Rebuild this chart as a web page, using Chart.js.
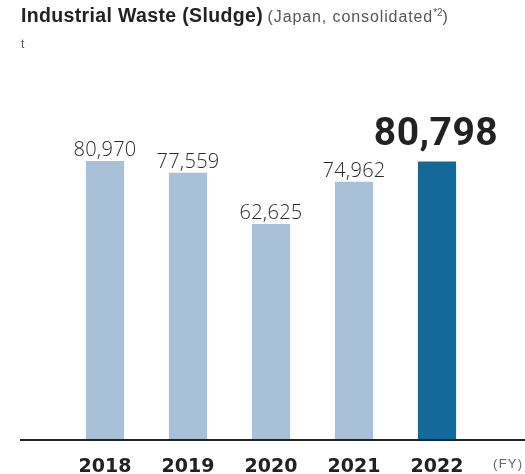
<!DOCTYPE html>
<html>
<head>
<meta charset="utf-8">
<script src="https://cdn.jsdelivr.net/npm/chart.js@4.4.0/dist/chart.umd.min.js"></script>
<style>
  body { margin: 0; background: #fff; }
  #wrap { position: relative; width: 525px; height: 474px; }
  #title { position: absolute; left: 21px; top: 4px; font-family: "Liberation Sans", Arial, sans-serif; color: #222; white-space: nowrap; }
  #title b { font-size: 19.5px; letter-spacing: 0.35px; }
  #title span { font-size: 16px; color: #555; letter-spacing: 0.9px; }
  #title sup { font-size: 10px; letter-spacing: 0; }
  #unit { position: absolute; left: 21px; top: 37px; font-family: "Liberation Sans", Arial, sans-serif; font-size: 12px; color: #555; }
  #fy { position: absolute; left: 493px; top: 456px; font-family: "Liberation Sans", Arial, sans-serif; font-size: 13px; letter-spacing: 1.3px; color: #666; }
  canvas { position: absolute; left: 0; top: 0; }
</style>
</head>
<body>
<div id="wrap">
  <canvas id="chart" width="525" height="474"></canvas>
  <div id="title"><b>Industrial Waste (Sludge)</b> <span>(Japan, consolidated<sup>*2</sup>)</span></div>
  <div id="unit">t</div>
  <div id="fy">(FY)</div>
</div>
<script>
const years = ['2018', '2019', '2020', '2021', '2022'];
const sludge = [80970, 77559, 62625, 74962, 80798];
const barColors = ['#a9c0d9', '#a9c0d9', '#a9c0d9', '#a9c0d9', '#136a9a'];

// value labels over bars, year labels under the baseline, and the baseline itself
const labelsPlugin = {
  id: 'labels',
  afterDatasetsDraw(chart) {
    const ctx = chart.ctx;
    const meta = chart.getDatasetMeta(0);
    const xs = chart.scales.x;
    const area = chart.chartArea;

    ctx.save();
    ctx.strokeStyle = '#222';
    ctx.lineWidth = 2;
    ctx.beginPath();
    ctx.moveTo(20, area.bottom + 1);
    ctx.lineTo(525, area.bottom + 1);
    ctx.stroke();

    ctx.textAlign = 'center';
    meta.data.forEach(function(bar, i) {
      const text = sludge[i].toLocaleString('en-US');
      if (i === sludge.length - 1) {
        ctx.font = 'bold 39px Roboto';
        ctx.letterSpacing = '0.5px';
        ctx.fillStyle = '#222';
        ctx.fillText(text, bar.x - 1, bar.y - 17);
      } else {
        ctx.font = '300 20px "Open Sans"';
        ctx.letterSpacing = '0.3px';
        ctx.fillStyle = '#2a2a2a';
        ctx.fillText(text, bar.x, bar.y - 5);
      }
      ctx.font = 'bold 19px "DejaVu Sans"';
      ctx.letterSpacing = '0px';
      ctx.fillStyle = '#222';
      ctx.fillText(years[i], xs.getPixelForValue(i), area.bottom + 33);
    });
    ctx.restore();
  }
};

new Chart(document.getElementById('chart'), {
  type: 'bar',
  data: {
    labels: years,
    datasets: [{
      data: sludge,
      backgroundColor: barColors,
      borderWidth: 0,
      barPercentage: 0.46,
      categoryPercentage: 1
    }]
  },
  options: {
    responsive: false,
    animation: false,
    layout: { padding: { left: 63.5, right: 46.5, top: 95.7, bottom: 35 } },
    plugins: { legend: { display: false }, tooltip: { enabled: false } },
    scales: {
      x: { display: false },
      y: { display: false, min: 0, max: 100000 }
    }
  },
  plugins: [labelsPlugin]
});
</script>
</body>
</html>
